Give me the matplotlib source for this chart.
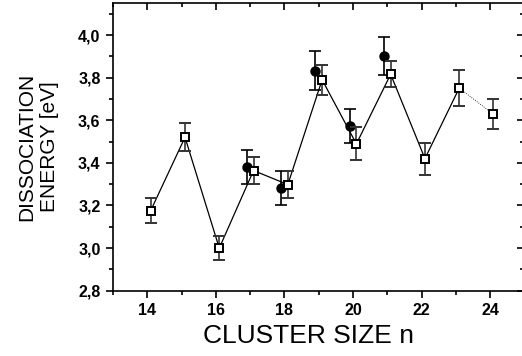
import numpy as np
import matplotlib.pyplot as plt
from matplotlib.ticker import MultipleLocator

plt.rcParams['font.family'] = ['Liberation Sans', 'DejaVu Sans']

# computed values (open squares)
n_calc = [14.1, 15.1, 16.1, 17.1, 18.1, 19.1, 20.1, 21.1, 22.1, 23.1, 24.1]
e_calc = [3.176, 3.52, 3.0, 3.364, 3.298, 3.79, 3.489, 3.816, 3.42, 3.751, 3.628]
err_calc = [0.057, 0.065, 0.056, 0.065, 0.062, 0.07, 0.077, 0.062, 0.075, 0.085, 0.07]

# measured values (filled circles)
n_meas = [16.9, 17.9, 18.9, 19.9, 20.9]
e_meas = [3.381, 3.28, 3.833, 3.572, 3.903]
err_meas = [0.08, 0.08, 0.09, 0.08, 0.09]

fig = plt.figure(figsize=(5.22, 3.56), dpi=100)
ax = fig.add_axes([0.2165, 0.1834, 0.788, 0.808])

# solid line through 14..23, dotted tail to 24
ax.plot(n_calc[:-1], e_calc[:-1], color='black', lw=0.9, zorder=2)
ax.plot(n_calc[-2:], e_calc[-2:], color='black', lw=0.6, ls=':', zorder=2)

ax.errorbar(n_meas, e_meas, yerr=err_meas, fmt='o', color='black', ms=6.5,
            ecolor='black', elinewidth=1.2, capsize=4, capthick=1.2, zorder=3)
ax.errorbar(n_calc, e_calc, yerr=err_calc, fmt='s', color='black', mfc='white',
            mec='black', mew=1.4, ms=5.5, ecolor='#333333', elinewidth=1.2,
            capsize=4, capthick=1.2, zorder=4)

ax.set_xlim(13, 25)
ax.set_ylim(2.8, 4.15)
ax.xaxis.set_major_locator(MultipleLocator(2))
ax.xaxis.set_minor_locator(MultipleLocator(1))
ax.yaxis.set_major_locator(MultipleLocator(0.2))
ax.yaxis.set_minor_locator(MultipleLocator(0.1))
ax.yaxis.set_major_formatter(plt.FuncFormatter(lambda v, p: ('%.1f' % v).replace('.', ',')))

ax.tick_params(which='both', direction='out', top=True, right=True,
               labeltop=False, labelright=False, width=1.2)
ax.tick_params(which='major', length=5, labelsize=11.5, pad=4)
ax.tick_params(which='minor', length=3)
for t in ax.xaxis.get_major_ticks() + ax.xaxis.get_minor_ticks():
    t.tick2line.set_marker(3)  # top ticks pointing down into the axes
for t in ax.yaxis.get_major_ticks() + ax.yaxis.get_minor_ticks():
    t.tick2line.set_marker(0)  # right ticks pointing into the axes
for lab in ax.get_xticklabels() + ax.get_yticklabels():
    lab.set_fontweight('bold')
for sp in ax.spines.values():
    sp.set_linewidth(1.2)

ax.set_xlabel('CLUSTER SIZE n', fontsize=19)
ax.xaxis.set_label_coords(0.475, -0.115)
ax.xaxis.label.set_va('top')
ax.set_ylabel('DISSOCIATION\nENERGY [eV]', fontsize=15, labelpad=14, linespacing=1.25)

fig.savefig('out.png', dpi=100)
